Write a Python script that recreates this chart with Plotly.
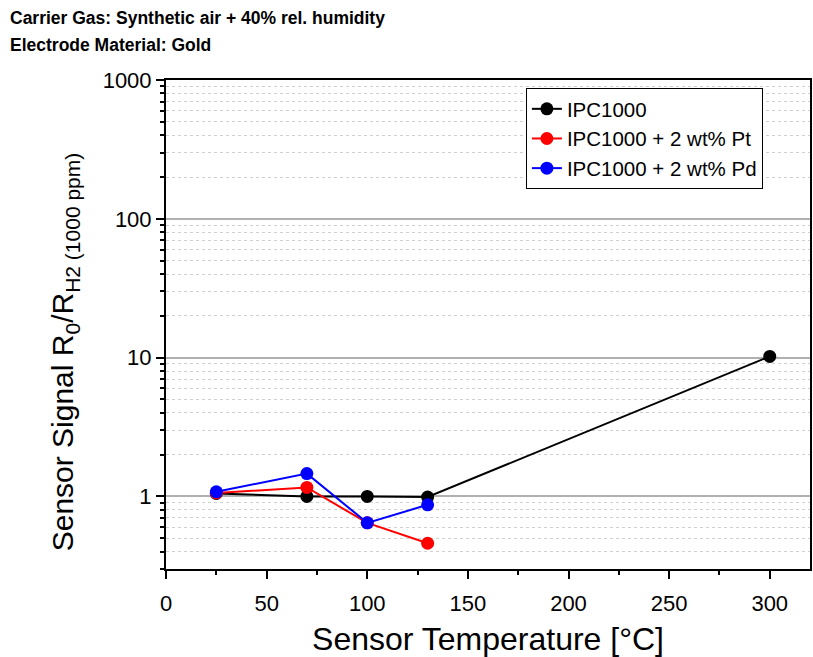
import plotly.graph_objects as go
import numpy as np

temps_ipc = [25, 70, 100, 130, 300]
sig_ipc = [1.05, 1.0, 1.0, 0.99, 10.2]
temps_pt = [25, 70, 100, 130]
sig_pt = [1.06, 1.16, 0.645, 0.46]
temps_pd = [25, 70, 100, 130]
sig_pd = [1.08, 1.46, 0.645, 0.87]

names = ["IPC1000", "IPC1000 + 2 wt% Pt", "IPC1000 + 2 wt% Pd"]
colors = ["#000000", "#ff0000", "#0000ff"]

fig = go.Figure()
for x, y, n, c in [(temps_ipc, sig_ipc, names[0], colors[0]),
                   (temps_pt, sig_pt, names[1], colors[1]),
                   (temps_pd, sig_pd, names[2], colors[2])]:
    fig.add_trace(go.Scatter(x=x, y=y, name=n, mode="lines+markers",
                             line=dict(color=c, width=2),
                             marker=dict(color=c, size=13)))

font = "Liberation Sans, Arial, sans-serif"
L, T, B, R = 166, 80, 88, 1
PW, PH = 813 - L - R, 657 - T - B

fig.update_layout(
    width=813, height=657,
    margin=dict(l=L, r=R, t=T, b=B),
    plot_bgcolor="white", paper_bgcolor="white",
    font=dict(family=font, color="black"),
    showlegend=True,
    legend=dict(x=(527 - L) / PW, y=1 - (88 - T) / PH, xanchor="left", yanchor="top",
                bordercolor="black", borderwidth=1, bgcolor="white",
                font=dict(size=20.5, family=font), tracegroupgap=0),
    xaxis=dict(range=[0, 320], tickvals=[0, 50, 100, 150, 200, 250, 300],
               ticks="outside", ticklen=8, tickwidth=1.5, tickcolor="black",
               showline=True, linecolor="black", linewidth=2, mirror=True,
               showgrid=False, zeroline=False, ticklabelstandoff=6,
               tickfont=dict(size=22),
               minor=dict(tickvals=[25, 75, 125, 175, 225, 275, 325], ticks="outside", ticklen=4,
                          tickcolor="black", showgrid=False),
               title=dict(text="Sensor Temperature [°C]", font=dict(size=32), standoff=16)),
    yaxis=dict(type="log", range=[np.log10(0.3), 3],
               tickvals=[1, 10, 100, 1000], ticktext=["1", "10", "100", "1000"],
               ticks="outside", ticklen=8, tickwidth=1.5, tickcolor="black",
               showline=True, linecolor="black", linewidth=2, mirror=True,
               showgrid=True, gridcolor="#b0b0b0", gridwidth=1.5,
               zeroline=False, tickfont=dict(size=22),
               minor=dict(tickvals=[v * d for d in [0.1, 1, 10, 100] for v in range(2, 10)],
                          ticks="outside", ticklen=4, tickcolor="black",
                          showgrid=True, gridcolor="#d0d0d0", griddash="dot", gridwidth=1)),
)

fig.add_annotation(text="Sensor Signal R<sub>0</sub>/R<sub>H2 (1000 ppm)</sub>",
                   xref="paper", yref="paper", x=(64 - L) / PW, y=(657 - B - 352) / PH,
                   xanchor="center", yanchor="middle", textangle=-90, showarrow=False,
                   font=dict(size=30, family=font))

fig.add_annotation(text="<b>Carrier Gas: Synthetic air + 40% rel. humidity</b>",
                   xref="paper", yref="paper", x=(8 - L) / PW, y=1 + (T - 18) / PH,
                   xanchor="left", yanchor="middle",
                   align="left", showarrow=False, font=dict(size=17.5, family=font))
fig.add_annotation(text="<b>Electrode Material: Gold</b>",
                   xref="paper", yref="paper", x=(8 - L) / PW, y=1 + (T - 45) / PH,
                   xanchor="left", yanchor="middle",
                   align="left", showarrow=False, font=dict(size=17.5, family=font))

fig.write_html("out.html")
